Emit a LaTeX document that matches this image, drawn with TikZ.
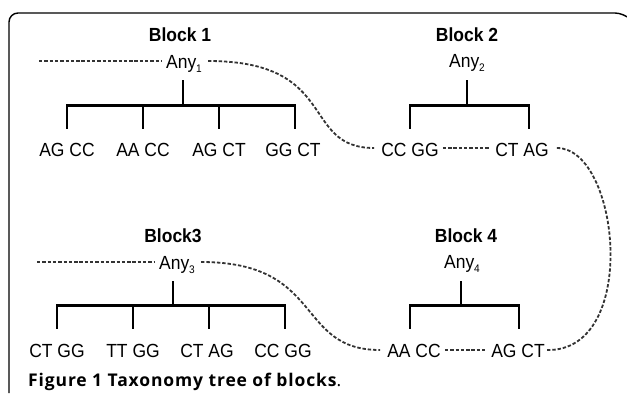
\documentclass[tikz,border=0pt]{standalone}
\usepackage{fontspec}
\setmainfont{Liberation Sans}[FakeStretch=0.92]
\newfontfamily\capfont{Open Sans}[LetterSpace=5]
\begin{document}
\begin{tikzpicture}[x=1pt,y=-1pt,
  lbl/.style={inner sep=0pt,anchor=base,font=\fontsize{19}{22}\selectfont},
  ttl/.style={inner sep=0pt,anchor=base,font=\fontsize{19}{22}\selectfont\bfseries},
  anyn/.style={inner sep=0pt,anchor=base,font=\fontsize{19}{22}\selectfont,text height=13.6pt,text depth=0pt},
  dsh/.style={draw=black!80,line width=1.8pt,dash pattern=on 3.4pt off 1.9pt},
  stem/.style={draw=black,line width=1.7pt},
  bar/.style={draw=black,line width=3pt},
  frame/.style={draw=black,line width=1.4pt,rounded corners=9pt}]
\useasboundingbox (0,0) rectangle (627,397);
\newcommand{\subn}[1]{\raisebox{-4.5pt}{\fontsize{11}{12}\selectfont #1}}
% frame
\draw[frame] (9,393) -- (9,13) -- (624,13) -- (627,16);

% Block 1
\node[ttl] (t1) at (180,41.7) {Block 1};
\node[anyn] (any1) at (184,68) {Any\subn{1}};
\coordinate (bar1) at (183,105);
\coordinate (bar1l) at (67,105);
\coordinate (bar1r) at (295,105);
\node[lbl] (a1) at (67,156.5) {AG CC};
\node[lbl] (a2) at (143,156.5) {AA CC};
\node[lbl] (a3) at (219,156.5) {AG CT};
\node[lbl] (a4) at (293,156.5) {GG CT};
\draw[stem] (bar1) -- ++(0,-25);
\draw[bar] ([xshift=-0.8pt]bar1l) -- ([xshift=0.8pt]bar1r);
\foreach \x in {67,143,219,295}{\draw[stem] (\x,105) -- (\x,129);}
\draw[dsh] (39,61) -- ([xshift=-4pt]any1.west |- 0,61);

% Block 2
\node[ttl] (t2) at (467,41.7) {Block 2};
\node[anyn] (any2) at (467,67) {Any\subn{2}};
\coordinate (bar2) at (467,105);
\node[lbl] (b1) at (410,156) {CC GG};
\node[lbl] (b2) at (522,156) {CT AG};
\draw[stem] (bar2) -- ++(0,-25);
\draw[bar] (409.2,105) -- (529.8,105);
\foreach \x in {410,529}{\draw[stem] (\x,105) -- (\x,129);}
\draw[dsh] ([xshift=4pt]b1.east |- 0,148) -- ([xshift=-5pt]b2.west |- 0,148);

% Block 3
\node[ttl] (t3) at (173,242.7) {Block3};
\node[anyn] (any3) at (177,269) {Any\subn{3}};
\coordinate (bar3) at (173,305);
\node[lbl] (c1) at (57,357) {CT GG};
\node[lbl] (c2) at (133,357) {TT GG};
\node[lbl] (c3) at (207,357) {CT AG};
\node[lbl] (c4) at (283,357) {CC GG};
\draw[stem] (bar3) -- ++(0,-24);
\draw[bar] (56.2,305) -- (285.8,305);
\foreach \x in {57,133,209,285}{\draw[stem] (\x,305) -- (\x,329);}
\draw[dsh] (37,262) -- ([xshift=-4pt]any3.west |- 0,262);

% Block 4
\node[ttl] (t4) at (466,242.7) {Block 4};
\node[anyn] (any4) at (462,268) {Any\subn{4}};
\coordinate (bar4) at (461,305);
\node[lbl] (d1) at (414,357) {AA CC};
\node[lbl] (d2) at (518,357) {AG CT};
\draw[stem] (bar4) -- ++(0,-24);
\draw[bar] (409.2,305) -- (519.8,305);
\foreach \x in {410,519}{\draw[stem] (\x,305) -- (\x,329);}
\draw[dsh] ([xshift=4pt]d1.east |- 0,350) -- ([xshift=-5pt]d2.west |- 0,350);

% linking curves
\draw[dsh] ([xshift=6pt]any1.east |- 0,61) .. controls (340,61) and (300,148) .. ([xshift=-7pt]b1.west |- 0,148);
\draw[dsh] ([xshift=8pt]b2.east |- 0,148) .. controls (620,148) and (640,352) .. ([xshift=2pt]d2.east |- 0,350);
\draw[dsh] ([xshift=6pt]any3.east |- 0,262) .. controls (325,262) and (295,350) .. ([xshift=-7pt]d1.west |- 0,350);

% caption
\node[inner sep=0pt,anchor=base west,font=\capfont\fontsize{17.5}{20}\selectfont] (cap) at (28,386) {\textbf{Figure 1 Taxonomy tree of blocks}.};
\end{tikzpicture}
\end{document}
